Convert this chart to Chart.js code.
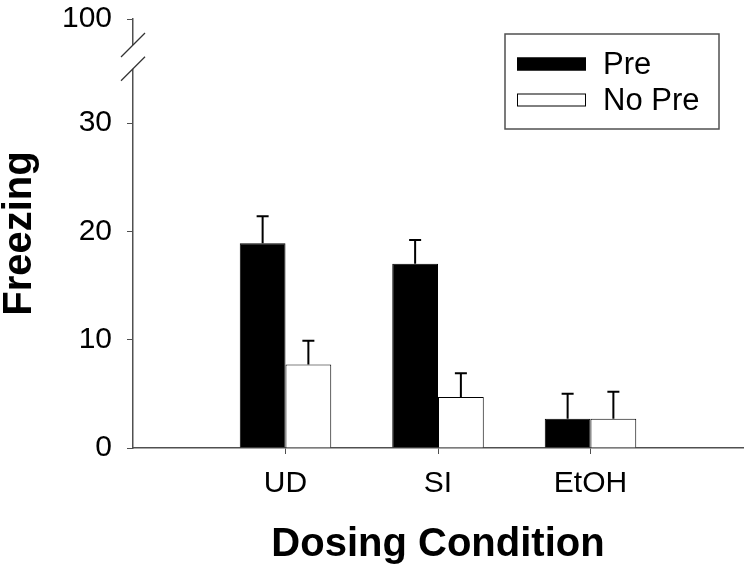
<!DOCTYPE html>
<html>
<head>
<meta charset="utf-8">
<script src="https://cdn.jsdelivr.net/npm/chart.js@4.4.1/dist/chart.umd.min.js"></script>
<style>
  html, body { margin: 0; padding: 0; background: #fff; }
  #wrap { width: 752px; height: 572px; }
</style>
</head>
<body>
<div id="wrap"><canvas id="freezeChart"></canvas></div>
<script>
// === Data ===
const conditions = ['UD', 'SI', 'EtOH'];
const preMeans = [18.9, 17.0, 2.7];
const preErrors = [2.5, 2.2, 2.3];
const noPreMeans = [7.7, 4.7, 2.7];
const noPreErrors = [2.2, 2.2, 2.5];
const yTickValues = [0, 10, 20, 30];
const yTopLabel = '100';      // shown above the axis break
const yAxisTop = 39.6;        // scale position where the "100" tick sits
const breakMarks = [35.0, 37.2]; // where the two slashes cross the axis

const FONT = "'Liberation Sans', Arial, Helvetica, sans-serif";
const AXIS = '#505050';

// pad the category axis with an empty slot at each end
const labels = ['', ...conditions, ''];
const pad = arr => [null, ...arr, null];

// error bars (upper half only) drawn on top of the bars
const errorBars = {
  id: 'errorBars',
  afterDatasetsDraw(chart) {
    const { ctx } = chart;
    const y = chart.scales.y;
    ctx.save();
    ctx.strokeStyle = '#000';
    ctx.lineWidth = 2;
    chart.data.datasets.forEach((ds, di) => {
      const meta = chart.getDatasetMeta(di);
      meta.data.forEach((bar, i) => {
        const v = ds.data[i];
        if (v == null) return;
        const top = y.getPixelForValue(v + ds.errors[i]);
        ctx.beginPath();
        ctx.moveTo(bar.x, bar.y);
        ctx.lineTo(bar.x, top);
        ctx.moveTo(bar.x - 6, top);
        ctx.lineTo(bar.x + 6, top);
        ctx.stroke();
      });
    });
    ctx.restore();
  }
};

// axis break slashes + legend box
const decorations = {
  id: 'decorations',
  afterDraw(chart) {
    const { ctx, chartArea } = chart;
    const y = chart.scales.y;
    const ax = chartArea.left;
    const y1 = y.getPixelForValue(breakMarks[1]);
    const y2 = y.getPixelForValue(breakMarks[0]);
    ctx.save();
    ctx.fillStyle = '#fff';
    ctx.fillRect(ax - 3, y1, 6, y2 - y1);
    ctx.strokeStyle = '#333';
    ctx.lineWidth = 1.3;
    [y1, y2].forEach(c => {
      ctx.beginPath();
      ctx.moveTo(ax - 12, c + 12);
      ctx.lineTo(ax + 12, c - 12);
      ctx.stroke();
    });

    // legend
    ctx.strokeStyle = AXIS;
    ctx.lineWidth = 1.5;
    ctx.strokeRect(505, 34, 214, 95);
    ctx.font = '31px ' + FONT;
    ctx.textBaseline = 'middle';
    chart.data.datasets.forEach((ds, i) => {
      const cy = 64 + i * 36;
      ctx.fillStyle = ds.backgroundColor;
      ctx.fillRect(517, cy - 6.5, 69, 13);
      ctx.strokeStyle = '#000';
      ctx.lineWidth = 1;
      ctx.strokeRect(517.5, cy - 6, 68, 12);
      ctx.fillStyle = '#000';
      ctx.fillText(ds.label, 603, cy + 1);
    });
    ctx.restore();
  }
};

new Chart(document.getElementById('freezeChart'), {
  type: 'bar',
  data: {
    labels: labels,
    datasets: [
      {
        label: 'Pre',
        data: pad(preMeans),
        errors: pad(preErrors),
        backgroundColor: '#000',
        borderColor: '#000',
        borderWidth: 1
      },
      {
        label: 'No Pre',
        data: pad(noPreMeans),
        errors: pad(noPreErrors),
        backgroundColor: '#fff',
        borderColor: '#000',
        borderWidth: 1
      }
    ]
  },
  options: {
    responsive: true,
    maintainAspectRatio: false,
    animation: false,
    events: [],
    layout: { padding: { top: 19, right: 9, left: 0, bottom: 0 } },
    datasets: { bar: { categoryPercentage: 0.6, barPercentage: 1.0 } },
    plugins: { legend: { display: false }, tooltip: { enabled: false } },
    scales: {
      x: {
        offset: false,
        grid: {
          offset: false,
          drawOnChartArea: false,
          tickLength: 6,
          tickColor: c => (c.index >= 1 && c.index <= conditions.length ? AXIS : 'rgba(0,0,0,0)')
        },
        border: { color: AXIS, width: 1.5 },
        ticks: { color: '#000', font: { family: FONT, size: 30 }, padding: 12, maxRotation: 0, autoSkip: false },
        title: {
          display: true,
          text: 'Dosing Condition',
          color: '#000',
          font: { family: FONT, size: 40, weight: 'bold', lineHeight: 1 },
          padding: { top: 0, bottom: 7 }
        },
        afterFit: s => { s.height = 124; s.paddingLeft = 0; s.paddingRight = 0; }
      },
      y: {
        min: 0,
        max: yAxisTop,
        afterBuildTicks: s => { s.ticks = [...yTickValues, yAxisTop].map(v => ({ value: v })); },
        grid: { drawOnChartArea: false, tickLength: 6, tickColor: AXIS },
        border: { color: AXIS, width: 1.5 },
        ticks: {
          color: '#000',
          font: { family: FONT, size: 30 },
          padding: 15,
          callback: v => (v > yTickValues[yTickValues.length - 1] ? yTopLabel : v)
        },
        title: {
          display: true,
          text: 'Freezing',
          color: '#000',
          font: { family: FONT, size: 40, weight: 'bold', lineHeight: 1 },
          padding: { top: 0, bottom: 0 }
        },
        afterFit: s => { s.width = 133; s.paddingTop = 0; s.paddingBottom = 0; }
      }
    }
  },
  plugins: [errorBars, decorations]
});
</script>
</body>
</html>
